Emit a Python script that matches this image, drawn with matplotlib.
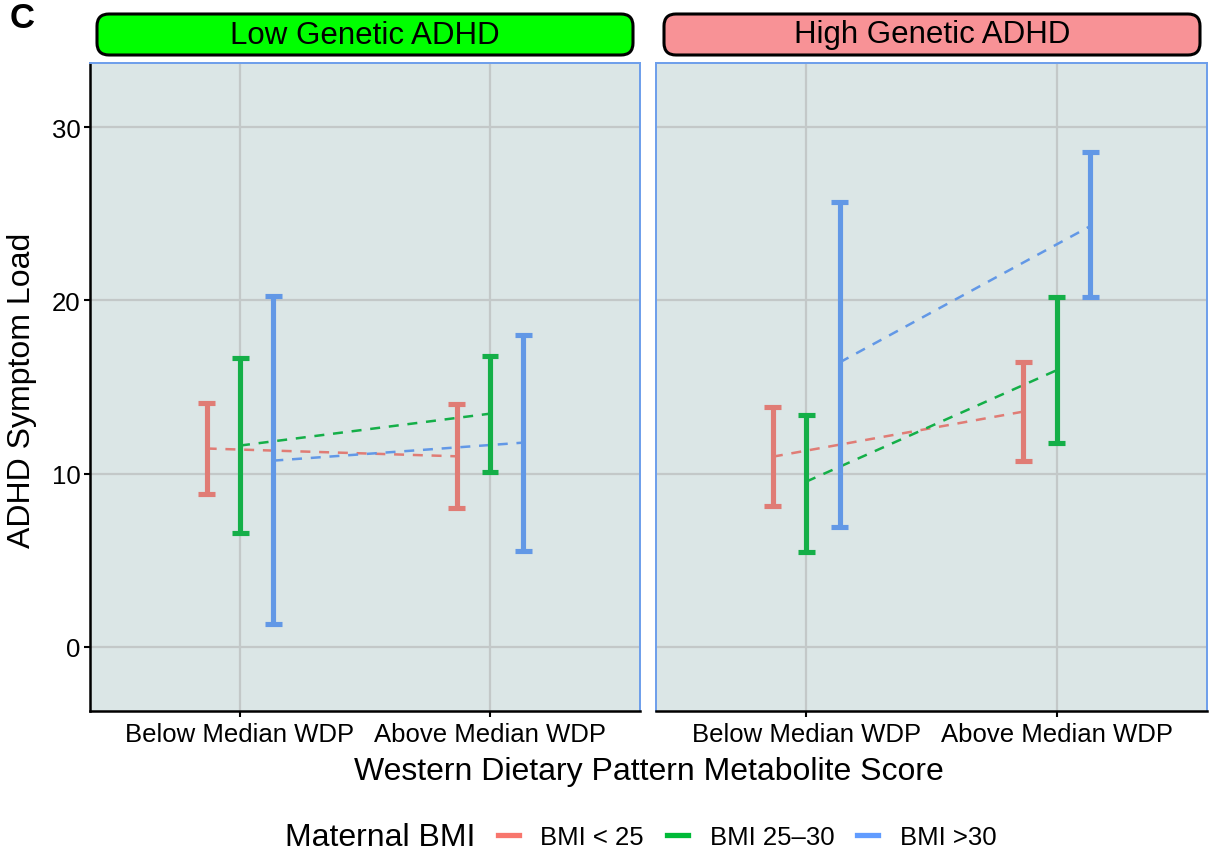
import matplotlib
matplotlib.use("Agg")
import matplotlib.pyplot as plt
from matplotlib.patches import FancyBboxPatch
from matplotlib.lines import Line2D
from matplotlib.transforms import IdentityTransform

plt.rcParams['font.family'] = ['Liberation Sans', 'DejaVu Sans']

# data
panels = ["Low Genetic ADHD", "High Genetic ADHD"]
strip_colors = ["#00FF00", "#F89296"]
wdp_levels = ["Below Median WDP", "Above Median WDP"]
groups = ["BMI < 25", "BMI 25\u201330", "BMI >30"]
mark_colors = ["#E07C75", "#14AF48", "#6298E6"]
legend_colors = ["#F8766D", "#00BA38", "#619CFF"]

# means (dashed lines), per panel -> per group -> [below, above]
means = [
    [[11.45, 11.00], [11.62, 13.46], [10.75, 11.79]],
    [[10.98, 13.58], [9.54, 15.97], [16.42, 24.28]],
]
lower = [
    [[8.85, 8.03], [6.60, 10.10], [1.33, 5.55]],
    [[8.15, 10.75], [5.49, 11.75], [6.94, 20.17]],
]
upper = [
    [[14.10, 14.00], [16.65, 16.78], [20.23, 18.03]],
    [[13.82, 16.47], [13.41, 20.17], [25.66, 28.55]],
]

W, H = 1211, 862
fig = plt.figure(figsize=(W / 100, H / 100), dpi=100)


def px_box(x0, x1, y0, y1):
    return [x0 / W, 1 - y1 / H, (x1 - x0) / W, (y1 - y0) / H]


panel_px = [(90, 640), (656, 1207)]
strip_px = [(97, 633), (664, 1200)]
bg = "#DBE6E6"
grid_c = "#C3C8C8"
border_c = "#6D9EEB"
dodge = 0.4 / 3
cap = 0.034

for p in range(2):
    ax = fig.add_axes(px_box(panel_px[p][0], panel_px[p][1], 64, 712))
    ax.set_facecolor(bg)
    ax.set_xlim(0.4, 2.6)
    ax.set_ylim(-3.7, 33.7)
    ax.set_xticks([1, 2])
    ax.set_xticklabels(wdp_levels, fontsize=18.5)
    ax.set_yticks([0, 10, 20, 30])
    ax.grid(True, color=grid_c, lw=1.6)
    ax.set_axisbelow(True)
    ax.tick_params(axis='both', length=4, width=1.5, color='black', labelsize=18.5)
    ax.tick_params(axis='x', pad=4)
    ax.tick_params(axis='y', pad=3)
    for s in ['top', 'right', 'left', 'bottom']:
        ax.spines[s].set_color(border_c)
        ax.spines[s].set_linewidth(1.4)
    ax.spines['bottom'].set_color('black')
    ax.spines['bottom'].set_linewidth(1.8)
    if p == 0:
        ax.spines['left'].set_color('black')
        ax.spines['left'].set_linewidth(1.8)
    else:
        ax.tick_params(axis='y', length=0, labelleft=False)

    for g in range(3):
        off = (g - 1) * dodge
        xs = [1 + off, 2 + off]
        ax.plot(xs, means[p][g], color=mark_colors[g], lw=1.8,
                ls=(0, (4, 3.5)), zorder=2)
        ax.vlines(xs, lower[p][g], upper[p][g], color=mark_colors[g],
                  lw=3.7, zorder=3)
        for x, lo, hi in zip(xs, lower[p][g], upper[p][g]):
            ax.hlines([lo, hi], x - cap, x + cap, color=mark_colors[g],
                      lw=3.7, zorder=3)

    # facet strip
    sx0, sx1 = strip_px[p]
    box = FancyBboxPatch((sx0 + 12, H - 56 + 12), sx1 - sx0 - 24, 41 - 24,
                         boxstyle="round,pad=12", transform=IdentityTransform(),
                         facecolor=strip_colors[p], edgecolor='black', lw=2.2)
    fig.patches.append(box)
    fig.text((sx0 + sx1) / 2 / W, 1 - 35.5 / H, panels[p], ha='center',
             va='center', fontsize=22.5)

fig.text(648.5 / W, 1 - 772 / H, "Western Dietary Pattern Metabolite Score",
         ha='center', va='center', fontsize=23)
fig.text(22 / W, 1 - 390 / H, "ADHD Symptom Load", rotation=90,
         ha='center', va='center', fontsize=23)
fig.text(10 / W, 1 - 18 / H, "C", ha='left', va='center', fontsize=25,
         fontweight='bold')

fig.text(285 / W, 1 - 838 / H, "Maternal BMI", ha='left', va='center', fontsize=23)
handles = [Line2D([], [], color=c, lw=3.8) for c in legend_colors]
fig.legend(handles, groups, loc='center left', bbox_to_anchor=(498 / W, 1 - 838 / H),
           ncol=3, frameon=False, fontsize=18.5, borderpad=0, borderaxespad=0,
           handlelength=0.8, handletextpad=0.85, columnspacing=0.9)

fig.savefig("out.png", dpi=100)
